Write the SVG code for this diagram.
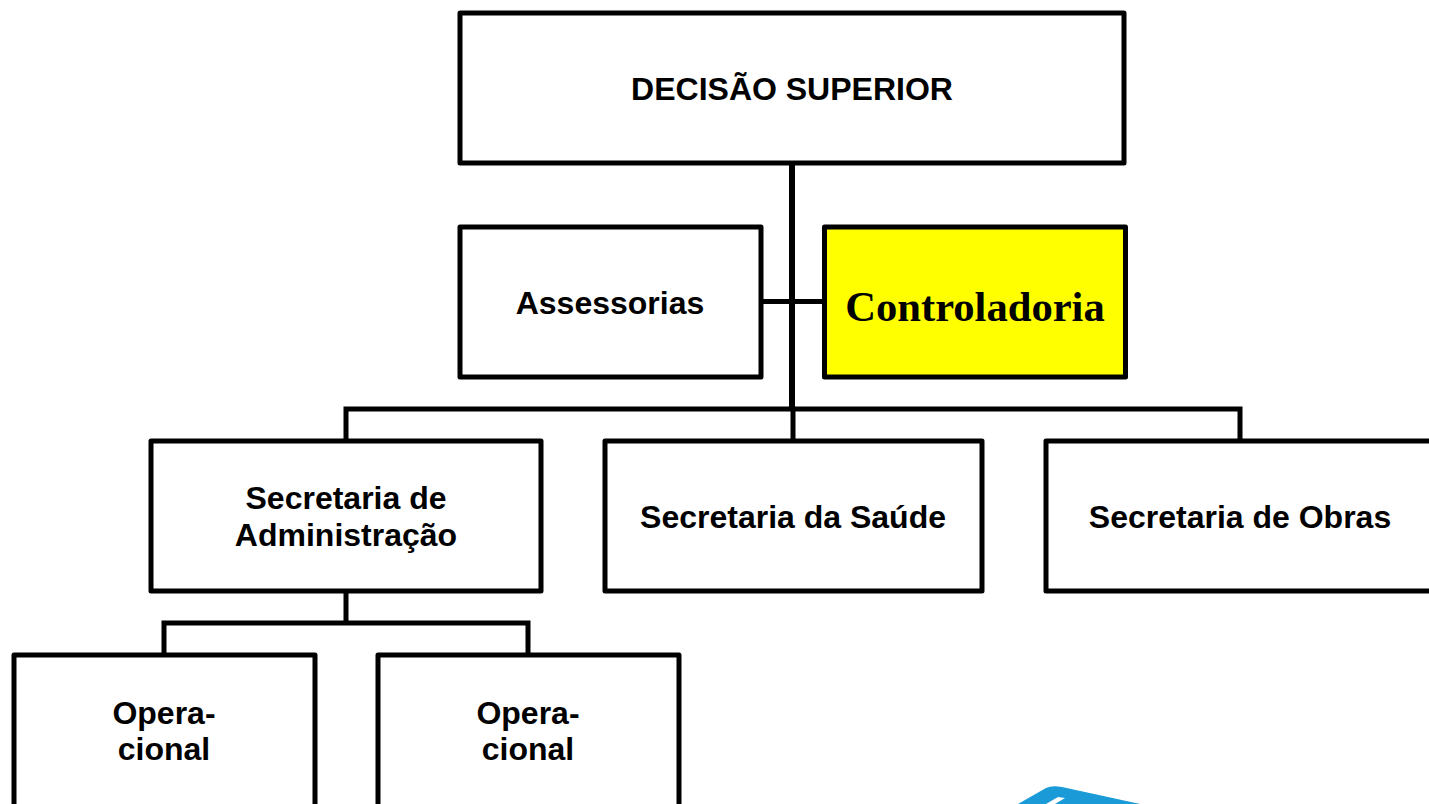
<svg xmlns="http://www.w3.org/2000/svg" width="1429" height="804" viewBox="0 0 1429 804">
<style>
.b{fill:#fff;stroke:#000;stroke-width:5;stroke-linejoin:round}
.c{fill:none;stroke:#000;stroke-width:5}
text{font-family:"Liberation Sans",Arial,sans-serif;font-weight:700;font-size:32px;fill:#000;text-anchor:middle}
</style>
<rect width="1429" height="804" fill="#fff"/>
<path d="M1018 804L1046 788Q1052 785 1062 787L1140 804Z" fill="#1a9ad6"/>
<path d="M1046 804L1058 797L1065 798L1055 804Z" fill="#fff"/>
<g id="connectors">
<path class="c" style="stroke-width:6" d="M792 163V409"/>
<path class="c" d="M761 301.500H824M346 440V409H1240V440M793 409V440M346 591V623M164 654V623H528V654"/>
</g>
<g id="decisao"><rect class="b" x="460" y="13" width="664" height="150"/><text x="792" y="100">DECISÃO SUPERIOR</text></g>
<g id="assessorias"><rect class="b" x="460" y="227" width="301" height="150"/><text x="610" y="314">Assessorias</text></g>
<g id="controladoria"><rect class="b" x="824.500" y="227" width="301" height="150" style="fill:#ff0"/><text x="975" y="321" style="font-family:'Liberation Serif',serif;font-size:42.600px">Controladoria</text></g>
<g id="sec-adm"><rect class="b" x="151" y="441" width="390" height="150"/><text x="346" y="509">Secretaria de</text><text x="346" y="546">Administração</text></g>
<g id="sec-saude"><rect class="b" x="605" y="441" width="377" height="150"/><text x="793" y="528">Secretaria da Saúde</text></g>
<g id="sec-obras"><rect class="b" x="1046" y="441" width="390" height="150"/><text x="1240" y="528">Secretaria de Obras</text></g>
<g id="op1"><rect class="b" x="14" y="655" width="301" height="155"/><text x="164" y="724">Opera-</text><text x="164" y="760">cional</text></g>
<g id="op2"><rect class="b" x="378" y="655" width="301" height="155"/><text x="528" y="724">Opera-</text><text x="528" y="760">cional</text></g>
</svg>
